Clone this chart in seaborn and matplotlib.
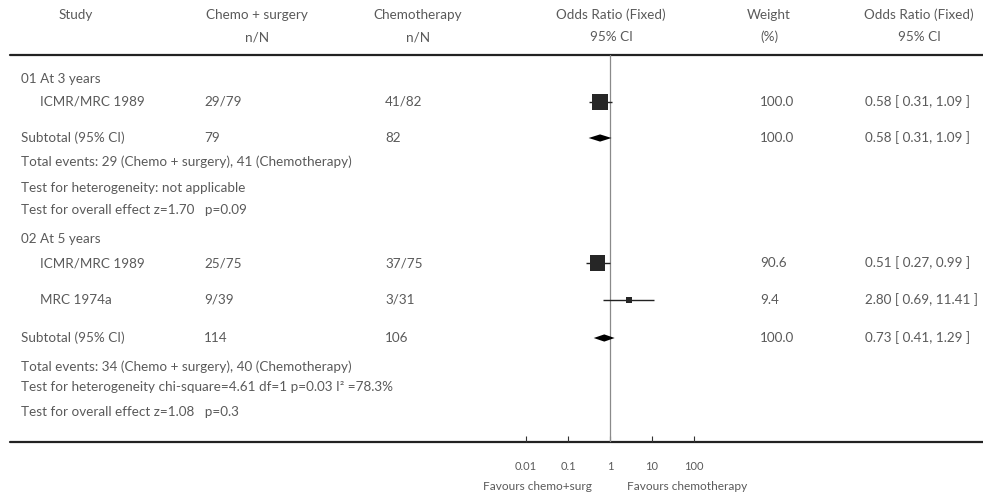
import matplotlib
matplotlib.use("Agg")
import matplotlib.pyplot as plt
import seaborn as sns
import numpy as np
import pandas as pd

sns.set_theme(style="white")
plt.rcParams['font.family'] = ['Lato', 'DejaVu Sans']

# ---------------- data ----------------
headers_top = ["Study", "Chemo + surgery", "Chemotherapy", "Odds Ratio (Fixed)", "Weight", "Odds Ratio (Fixed)"]
headers_bot = ["", "n/N", "n/N", "95% CI", "(%)", "95% CI"]
groups = ["01 At 3 years", "02 At 5 years"]

study_names = ["ICMR/MRC 1989", "ICMR/MRC 1989", "MRC 1974a"]
study_group = [0, 1, 1]
surg_nN = ["29/79", "25/75", "9/39"]
chemo_nN = ["41/82", "37/75", "3/31"]
study_or = [0.58, 0.51, 2.80]
study_lo = [0.31, 0.27, 0.69]
study_hi = [1.09, 0.99, 11.41]
study_w = [100.0, 90.6, 9.4]

sub_surg_N = ["79", "114"]
sub_chemo_N = ["82", "106"]
sub_or = [0.58, 0.73]
sub_lo = [0.31, 0.41]
sub_hi = [1.09, 1.29]
sub_w = [100.0, 100.0]

total_events = ["Total events: 29 (Chemo + surgery), 41 (Chemotherapy)",
                "Total events: 34 (Chemo + surgery), 40 (Chemotherapy)"]
heterogeneity = ["Test for heterogeneity: not applicable",
                 "Test for heterogeneity chi-square=4.61 df=1 p=0.03 I\u00b2 =78.3%"]
overall = ["Test for overall effect z=1.70   p=0.09",
           "Test for overall effect z=1.08   p=0.3"]

tick_vals = [0.01, 0.1, 1, 10, 100]
tick_labels = ["0.01", "0.1", "1", "10", "100"]
favours = ["Favours chemo+surg", "Favours chemotherapy"]

# ---------------- layout (pixels) ----------------
W, H = 983, 497
TXT = "#5a5a5a"
FS = 9.7
y_group = [79, 239]
y_study = [102, 263, 300]
y_sub = [138, 338]
y_tot = [162, 367]
y_het = [188, 387]
y_ovr = [210, 412]
x_hdr = [76, 257, 418, 611, 769, 919]
x_grp, x_name, x_surg, x_chemo, x_w, x_or = 21, 40, 204, 385, 760, 865
y_top_line, y_bot_line = 55, 442

fig = plt.figure(figsize=(W / 100, H / 100), dpi=100)
fig.patch.set_facecolor("white")
ax0 = fig.add_axes([0, 0, 1, 1])
ax0.set_xlim(0, W)
ax0.set_ylim(H, 0)
ax0.axis("off")

def t(x, y, s, ha="left", fs=FS):
    ax0.text(x, y, s, ha=ha, va="center", fontsize=fs, color=TXT)

for x, a, b in zip(x_hdr, headers_top, headers_bot):
    t(x, 15, a, ha="center")
    if b:
        t(x, 37, b, ha="center")

ax0.plot([10, W], [y_top_line, y_top_line], color="#222222", lw=1.6)
ax0.plot([10, W], [y_bot_line, y_bot_line], color="#222222", lw=1.6)

for g in range(2):
    t(x_grp, y_group[g], groups[g])
    t(x_grp, y_sub[g], "Subtotal (95% CI)")
    t(x_surg, y_sub[g], sub_surg_N[g])
    t(x_chemo, y_sub[g], sub_chemo_N[g])
    t(x_w, y_sub[g], f"{sub_w[g]:.1f}")
    t(x_or, y_sub[g], f"{sub_or[g]:.2f} [ {sub_lo[g]:.2f}, {sub_hi[g]:.2f} ]")
    t(x_grp, y_tot[g], total_events[g])
    t(x_grp, y_het[g], heterogeneity[g])
    t(x_grp, y_ovr[g], overall[g])

for i in range(len(study_names)):
    t(x_name, y_study[i], study_names[i])
    t(x_surg, y_study[i], surg_nN[i])
    t(x_chemo, y_study[i], chemo_nN[i])
    t(x_w, y_study[i], f"{study_w[i]:.1f}")
    t(x_or, y_study[i], f"{study_or[i]:.2f} [ {study_lo[i]:.2f}, {study_hi[i]:.2f} ]")

# ---------------- forest axes ----------------
fx0, fx1 = 500, 720
ppd = 42.0  # pixels per decade
ax = fig.add_axes([fx0 / W, 1 - y_bot_line / H, (fx1 - fx0) / W, (y_bot_line - y_top_line) / H])
ax.set_xscale("log")
ax.set_xlim(10 ** ((fx0 - 610) / ppd), 10 ** ((fx1 - 610) / ppd))
ax.set_ylim(y_bot_line, y_top_line)
ax.patch.set_alpha(0)
for s in ax.spines.values():
    s.set_visible(False)
ax.axvline(1, color="#8a8a8a", lw=0.9, zorder=1)

df = pd.DataFrame({"or": study_or, "lo": study_lo, "hi": study_hi,
                   "w": study_w, "y": y_study})
ax.hlines(df["y"], df["lo"], df["hi"], color="#222222", lw=1.0, zorder=2)
sns.scatterplot(data=df, x="or", y="y", size="w", sizes=(18, 132), size_norm=(9.4, 100),
                marker="s", color="#262626", edgecolor="#262626", linewidth=0,
                legend=False, ax=ax, zorder=3)

for g in range(2):
    yc = y_sub[g]
    h = 3.6
    ax.fill([sub_lo[g], sub_or[g], sub_hi[g], sub_or[g]], [yc, yc - h, yc, yc + h],
            color="black", zorder=3, lw=0)

ax.set_xticks(tick_vals)
ax.set_xticklabels(tick_labels)
ax.xaxis.set_minor_locator(matplotlib.ticker.NullLocator())
ax.tick_params(axis="x", direction="in", length=4, width=0.8, color="#333333",
               labelsize=8.0, labelcolor=TXT, pad=14, bottom=True)
ax.set_yticks([])
ax.set_xlabel("")
ax.set_ylabel("")

t(537, 486, favours[0], ha="center", fs=8.6)
t(687, 486, favours[1], ha="center", fs=8.6)

fig.savefig("out.png", dpi=100, facecolor="white")
